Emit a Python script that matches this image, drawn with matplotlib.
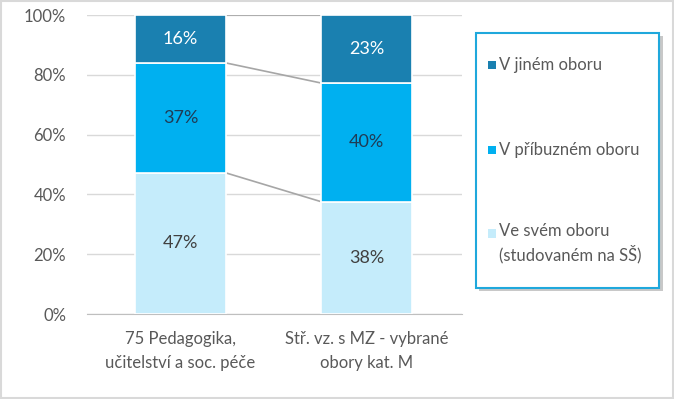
import numpy as np
import matplotlib.pyplot as plt
from matplotlib.patches import Rectangle

plt.rcParams['font.family'] = ['Lato', 'DejaVu Sans']

# Data
categories = ["75 Pedagogika,\nučitelství a soc. péče", "Stř. vz. s MZ - vybrané\nobory kat. M"]
series_names = ["Ve svém oboru\n(studovaném na SŠ)", "V příbuzném oboru", "V jiném oboru"]
vlastni = [47.2, 37.6]
pribuzny = [36.8, 39.7]
jiny = [16.0, 22.7]
labels_vlastni = ["47%", "38%"]
labels_pribuzny = ["37%", "40%"]
labels_jiny = ["16%", "23%"]

colors = ["#c5ecfb", "#00b0f0", "#1a80b0"]
text_colors = ["#404040", "#1f3b55", "#ffffff"]

fig = plt.figure(figsize=(6.74, 3.99), dpi=100)
fig.patch.set_facecolor("white")
fig.patches.append(Rectangle((0.001, 0.002), 0.997, 0.995, transform=fig.transFigure,
                             fill=False, edgecolor="#d9d9d9", linewidth=1.5))

ax = fig.add_axes([0.129, 0.213, 0.5565, 0.749])
x = np.arange(len(categories))
width = 0.49

vals = [vlastni, pribuzny, jiny]
labs = [labels_vlastni, labels_pribuzny, labels_jiny]
bottom = np.zeros(len(categories))
tops = []
for v, lab, c, tc in zip(vals, labs, colors, text_colors):
    v = np.array(v)
    ax.bar(x, v, width, bottom=bottom, color=c, edgecolor="white", linewidth=1.2, zorder=3)
    for i in range(len(x)):
        ax.text(x[i], bottom[i] + v[i] / 2, lab[i], ha="center", va="center",
                color=tc, fontsize=13, zorder=4)
    bottom = bottom + v
    tops.append(bottom.copy())

# spojnice mezi sloupci
for t in tops:
    ax.plot([x[0] + width / 2, x[1] - width / 2], [min(t[0], 100), min(t[1], 100)],
            color="#a6a6a6", linewidth=1.2, zorder=2)

ax.set_xlim(-0.503, 1.513)
ax.set_ylim(0, 100)
ax.set_yticks(np.arange(0, 101, 20))
ax.set_yticklabels([f"{v}%" for v in range(0, 101, 20)])
ax.set_xticks(x)
ax.set_xticklabels(categories, linespacing=1.65)
ax.grid(axis="y", color="#d9d9d9", linewidth=1, zorder=0)
ax.tick_params(axis="both", length=0, colors="#595959", labelsize=12)
ax.tick_params(axis="y", pad=15)
ax.tick_params(axis="x", pad=12)
for s in ["top", "right", "left"]:
    ax.spines[s].set_visible(False)
ax.spines["bottom"].set_color("#bfbfbf")

# legenda
shadow = Rectangle((0.711, 0.270), 0.272, 0.639, transform=fig.transFigure,
                   facecolor="#c8c8c8", edgecolor="none", zorder=1)
box = Rectangle((0.706, 0.278), 0.272, 0.639, transform=fig.transFigure,
                facecolor="white", edgecolor="#1fa8dc", linewidth=1.5, zorder=2)
fig.patches.extend([shadow, box])
leg_y = [0.391, 0.624, 0.837]
for name, c, yy in zip(series_names, colors, leg_y):
    first_line = 0.415 if "\n" in name else yy
    fig.patches.append(Rectangle((0.7235, first_line - 0.011), 0.0125, 0.021,
                                 transform=fig.transFigure, facecolor=c,
                                 edgecolor="none", zorder=3))
    fig.text(0.741, yy, name, ha="left", va="center", color="#595959",
             fontsize=12, linespacing=1.4, zorder=3)

fig.savefig("out.png", dpi=100)
